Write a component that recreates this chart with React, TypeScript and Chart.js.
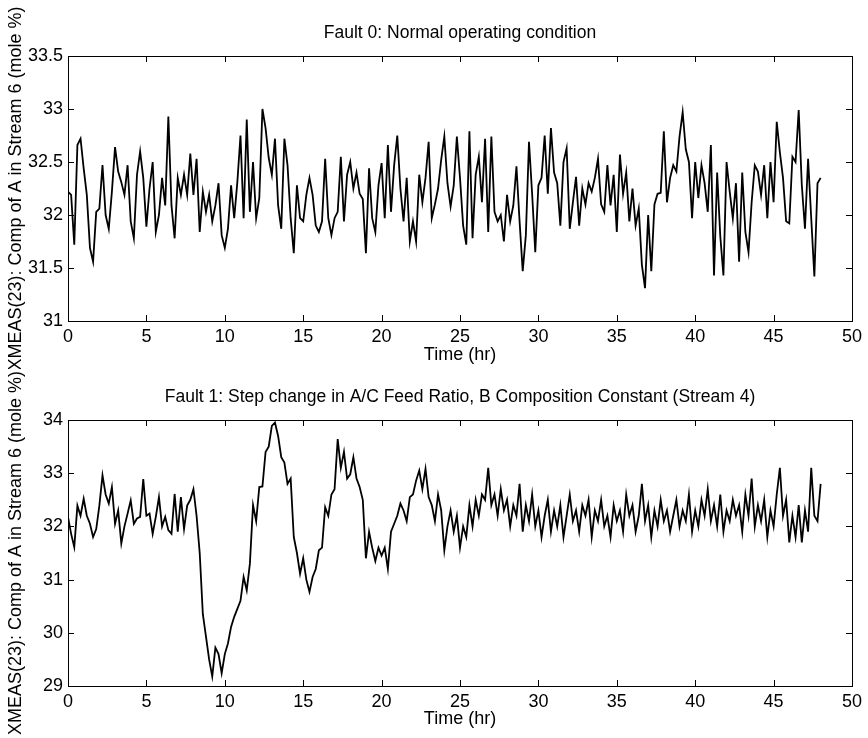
import React, { useEffect, useRef } from "react";
import { Chart, registerables } from "chart.js";

Chart.register(...registerables);

// XMEAS(23) sampled every 0.2 hr from t = 0 to t = 48 hr
const SAMPLE_STEP_HR = 0.2;

const fault0Comp = [
  32.22, 32.19, 31.72, 32.66, 32.72, 32.44, 32.19, 31.69, 31.56, 32.03,
  32.06, 32.47, 32.0, 31.87, 32.22, 32.64, 32.41, 32.31, 32.19, 32.47,
  31.94, 31.78, 32.38, 32.6, 32.35, 31.89, 32.25, 32.5, 31.84, 32.0,
  32.35, 32.09, 32.93, 32.09, 31.78, 32.35, 32.19, 32.38, 32.19, 32.58,
  32.19, 32.53, 31.84, 32.22, 32.03, 32.19, 31.94, 32.09, 32.3, 31.81,
  31.69, 31.87, 32.28, 31.97, 32.31, 32.75, 31.97, 32.9, 32.03, 32.5,
  31.97, 32.16,
  33.0, 32.82, 32.54, 32.38, 32.72, 32.09, 31.87, 32.72, 32.47, 31.97,
  31.64, 32.28, 31.97, 31.94, 32.19, 32.35, 32.19, 31.9, 31.84, 31.94,
  32.53, 31.97, 31.81, 31.97, 32.03, 32.55, 31.94, 32.38, 32.5, 32.25,
  32.4, 32.2, 32.15, 31.64, 32.44, 31.97, 31.84, 32.28, 32.49, 31.97,
  32.66, 32.03, 32.47, 32.75, 32.25, 31.94, 32.35, 31.75, 31.94, 31.75,
  32.38, 32.12, 32.35, 32.69, 31.97, 32.1, 32.25, 32.52, 32.74, 32.3,
  32.08, 32.28, 32.74, 32.35, 31.9, 31.72, 32.79, 31.78, 32.38, 32.55,
  32.12, 32.72, 31.84, 32.74, 32.03, 31.94, 32.0, 31.75, 32.19, 31.94,
  32.09, 32.46, 31.94, 31.47, 31.81, 32.69, 32.2, 31.65, 32.28, 32.35,
  32.75, 32.2, 32.82, 32.4, 32.3, 31.9, 32.5, 32.63, 31.87, 32.12,
  32.36, 31.9, 32.25, 32.1, 32.3, 32.22, 32.35, 32.53, 32.1, 32.03,
  32.47, 32.09, 32.38, 31.84, 32.57, 32.2, 32.4, 31.94, 32.25, 31.9,
  32.06, 31.53, 31.31, 32.0, 31.47, 32.1, 32.2, 32.21, 32.79, 32.12,
  32.35, 32.47, 32.41, 32.74, 32.97, 32.62, 32.5, 31.97, 32.5, 32.16,
  32.47, 32.3, 32.03, 32.66, 31.43, 32.4, 31.8, 31.43, 32.5, 32.22,
  31.97, 32.3, 31.56, 32.4, 31.84, 31.65, 32.12, 32.47, 32.41, 32.19,
  32.47, 31.97, 32.5, 32.12, 32.88, 32.59, 32.35, 31.94, 31.92, 32.55,
  32.5, 32.99, 32.28, 31.87, 32.53, 31.97, 31.42, 32.3, 32.35,
];

const fault1Comp = [
  32.18, 31.86, 31.61, 32.39, 32.2, 32.52, 32.2, 32.05, 31.8, 31.95,
  32.39, 32.96, 32.6, 32.43, 32.74, 32.05, 32.3, 31.68, 32.0, 32.24,
  32.49, 32.05, 32.15, 32.18, 32.89, 32.2, 32.24, 31.86, 32.18, 32.55,
  32.0, 32.18, 31.93, 31.86, 32.61, 31.9, 32.55, 31.95, 32.39, 32.5,
  32.7, 32.2, 31.5, 30.35, 29.93, 29.5, 29.18, 29.72, 29.6, 29.24,
  29.6, 29.8, 30.11, 30.3, 30.45, 30.6, 31.05, 30.8, 31.3, 32.4,
  32.1, 32.74,
  32.75, 33.4, 33.5, 33.89, 33.95, 33.7, 33.3, 33.2, 32.8, 32.9,
  31.8, 31.5, 31.11, 31.4, 31.0, 30.77, 31.05, 31.2, 31.55, 31.6,
  32.36, 32.2, 32.6, 32.7, 33.64, 33.1, 33.4, 32.9, 32.98, 33.3,
  32.9, 32.74, 32.5, 31.4, 31.9, 31.6, 31.35, 31.6, 31.45, 31.6,
  31.2, 31.9, 32.05, 32.2, 32.43, 32.3, 32.1, 32.55, 32.6, 32.86,
  33.05, 32.7, 33.08, 32.55, 32.4, 32.1, 32.6, 32.3, 31.55, 32.0,
  32.3, 31.9, 32.2, 31.6, 32.0, 31.8, 32.4, 32.0, 32.5, 32.2,
  32.6, 32.5, 33.1, 32.4, 32.6, 32.2, 32.7, 32.3, 32.5, 32.0,
  32.4, 32.2, 32.8, 31.9, 32.4, 32.1, 32.6, 32.0, 32.3, 31.8,
  32.2, 32.5, 31.9, 32.3, 32.0, 32.4, 31.8, 32.2, 32.6, 32.1,
  32.3, 31.9, 32.4, 32.2, 32.5, 31.8, 32.3, 32.1, 32.5, 32.0,
  32.2, 31.8, 32.4, 32.1, 32.3, 31.9, 32.6, 32.2, 32.4, 31.9,
  32.2, 32.8, 32.1, 32.4, 31.8, 32.3, 32.0, 32.5, 32.1, 32.3,
  31.9, 32.2, 32.5, 32.0, 32.3, 32.1, 32.6, 31.9, 32.3, 32.0,
  32.5, 32.2, 32.7, 32.1, 32.4, 32.0, 32.6, 31.9, 32.3, 32.1,
  32.5, 32.2, 32.4, 31.9, 32.6, 32.2, 32.9, 32.0, 32.4, 32.1,
  32.5, 31.8, 32.3, 32.0, 32.6, 33.1, 32.2, 32.5, 31.7, 32.2,
  31.8, 32.4, 31.7, 32.3, 31.9, 33.1, 32.2, 32.1, 32.8,
];

const timeTicks = [0, 5, 10, 15, 20, 25, 30, 35, 40, 45, 50];
const fault0Ticks = [31, 31.5, 32, 32.5, 33, 33.5];
const fault1Ticks = [29, 30, 31, 32, 33, 34];

const fault0Title = "Fault 0: Normal operating condition";
const fault1Title =
  "Fault 1: Step change in A/C Feed Ratio, B Composition Constant (Stream 4)";
const xAxisLabel = "Time (hr)";
const yAxisLabel = "XMEAS(23): Comp of A in Stream 6 (mole %)";

const FONT = '"Liberation Sans", Arial, Helvetica, sans-serif';
const W = 868;
const PANEL_H = 369;
const TICK_LEN = 6;

type PanelOpts = {
  title: string;
  titleY: number;
  xLabelY: number;
  yLabelX: number;
  xTicks: number[];
  yTicks: number[];
};

// Box frame with inward ticks on every side, plus titles and axis labels
const matlabFrame = {
  id: "matlabFrame",
  afterDraw(chart: any, _args: any, opts: PanelOpts) {
    const { ctx, chartArea: a, scales } = chart;
    ctx.save();
    ctx.strokeStyle = "#000";
    ctx.lineWidth = 1;
    ctx.strokeRect(
      Math.round(a.left) + 0.5,
      Math.round(a.top) + 0.5,
      Math.round(a.right - a.left),
      Math.round(a.bottom - a.top)
    );
    ctx.beginPath();
    for (const v of opts.xTicks) {
      const px = Math.round(scales.x.getPixelForValue(v)) + 0.5;
      ctx.moveTo(px, a.bottom);
      ctx.lineTo(px, a.bottom - TICK_LEN);
      ctx.moveTo(px, a.top);
      ctx.lineTo(px, a.top + TICK_LEN);
    }
    for (const v of opts.yTicks) {
      const py = Math.round(scales.y.getPixelForValue(v)) + 0.5;
      ctx.moveTo(a.left, py);
      ctx.lineTo(a.left + TICK_LEN, py);
      ctx.moveTo(a.right, py);
      ctx.lineTo(a.right - TICK_LEN, py);
    }
    ctx.stroke();

    ctx.fillStyle = "#000";
    ctx.textAlign = "center";
    ctx.textBaseline = "middle";
    const cx = (a.left + a.right) / 2;
    ctx.font = `17.5px ${FONT}`;
    ctx.fillText(opts.title, cx, opts.titleY);
    ctx.font = `18px ${FONT}`;
    ctx.fillText(xAxisLabel, cx, opts.xLabelY);
    ctx.translate(opts.yLabelX, (a.top + a.bottom) / 2);
    ctx.rotate(-Math.PI / 2);
    ctx.fillText(yAxisLabel, 0, 0);
    ctx.restore();
  },
};

function makeConfig(
  values: number[],
  yMin: number,
  yMax: number,
  yTicks: number[],
  top: number,
  bottom: number,
  frame: PanelOpts
): any {
  return {
    type: "line",
    data: {
      datasets: [
        {
          data: values.map((v, i) => ({ x: i * SAMPLE_STEP_HR, y: v })),
          borderColor: "#000",
          borderWidth: 1.8,
          pointRadius: 0,
          tension: 0,
          fill: false,
        },
      ],
    },
    options: {
      responsive: false,
      animation: false,
      events: [],
      layout: { padding: { left: 0, right: 16, top, bottom: 0 } },
      plugins: {
        legend: { display: false },
        title: { display: false },
        tooltip: { enabled: false },
        matlabFrame: frame,
      },
      scales: {
        x: {
          type: "linear",
          min: 0,
          max: 50,
          afterBuildTicks: (s: any) => {
            s.ticks = timeTicks.map((v) => ({ value: v }));
          },
          afterFit: (s: any) => {
            s.height = PANEL_H - bottom;
          },
          ticks: {
            autoSkip: false,
            maxRotation: 0,
            padding: 5,
            color: "#000",
            font: { family: FONT, size: 18 },
            callback: (v: number) => String(v),
          },
          grid: { display: false, drawTicks: false },
          border: { display: false },
        },
        y: {
          type: "linear",
          min: yMin,
          max: yMax,
          afterBuildTicks: (s: any) => {
            s.ticks = yTicks.map((v) => ({ value: v }));
          },
          afterFit: (s: any) => {
            s.width = 68;
          },
          ticks: {
            padding: 5,
            color: "#000",
            font: { family: FONT, size: 18 },
            callback: (v: number) => String(v),
          },
          grid: { display: false, drawTicks: false },
          border: { display: false },
        },
      },
    },
    plugins: [matlabFrame],
  };
}

function Panel(props: { config: any; top: number }) {
  const ref = useRef<HTMLCanvasElement | null>(null);
  useEffect(() => {
    if (!ref.current) return;
    const chart = new Chart(ref.current, props.config);
    return () => chart.destroy();
  }, [props.config]);
  return (
    <canvas
      ref={ref}
      width={W}
      height={PANEL_H}
      style={{
        position: "absolute",
        left: 0,
        top: props.top,
        width: W,
        height: PANEL_H,
        display: "block",
      }}
    />
  );
}

const topConfig = makeConfig(fault0Comp, 31, 33.5, fault0Ticks, 56, 321, {
  title: fault0Title,
  titleY: 33,
  xLabelY: 355,
  yLabelX: 16,
  xTicks: timeTicks,
  yTicks: fault0Ticks,
});

const bottomConfig = makeConfig(fault1Comp, 29, 34, fault1Ticks, 51, 317, {
  title: fault1Title,
  titleY: 28,
  xLabelY: 350,
  yLabelX: 16,
  xTicks: timeTicks,
  yTicks: fault1Ticks,
});

export default function App() {
  return (
    <div
      style={{
        position: "absolute",
        left: 0,
        top: 0,
        width: W,
        height: PANEL_H * 2,
        background: "#fff",
      }}
    >
      <Panel config={topConfig} top={0} />
      <Panel config={bottomConfig} top={PANEL_H} />
    </div>
  );
}
